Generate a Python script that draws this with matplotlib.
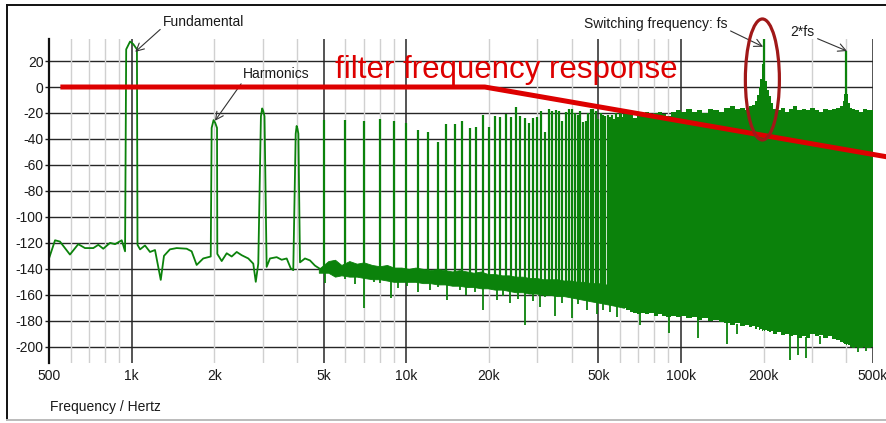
import numpy as np
import matplotlib
matplotlib.use("Agg")
import matplotlib.pyplot as plt
from matplotlib.patches import Ellipse
from matplotlib.lines import Line2D

plt.rcParams['font.family'] = ['Liberation Sans', 'DejaVu Sans']

# ---------------------------------------------------------------- data
x_ticks = [500, 1e3, 2e3, 5e3, 1e4, 2e4, 5e4, 1e5, 2e5, 5e5]
x_tick_labels = ['500', '1k', '2k', '5k', '10k', '20k', '50k', '100k', '200k', '500k']
y_ticks = list(range(-200, 21, 20))

# low-frequency noise floor (Hz, dB)
floor_line_f = [500, 526, 548, 596, 639, 676, 725, 756, 788, 834,
                870, 920, 946, 1050, 1073, 1118, 1166, 1216, 1276, 1311,
                1378, 1458, 1585, 1653, 1724, 1822, 1940, 2050, 2127, 2218,
                2313, 2412, 2515, 2658, 2771, 2830, 2890, 3100, 3188, 3372,
                3516, 3667, 3792, 3875, 4100, 4275, 4457, 4648, 4847, 5130]
floor_line_db = [-132, -118, -119, -129, -121, -124, -124, -121.5, -124.5, -120,
                 -121, -118, -126.5, -121.5, -125, -122, -127, -125.5, -148.5, -130,
                 -125, -124, -124.5, -126.5, -137, -132, -130.5, -128.5, -134, -128,
                 -130.5, -127, -129.5, -132, -136, -150, -136, -138.5, -132, -131,
                 -133, -132, -139.5, -141, -135, -132, -133.5, -137.5, -140, -140]

# noise floor band above 5 kHz (Hz, upper dB, lower dB)
floor_f = [4800, 5200, 5500, 5800, 6200, 6600, 7000, 7500, 8000, 8500,
           9000, 9600, 10200, 10800, 11500, 12200, 13000, 13800, 14700, 15600,
           16600, 17600, 18700, 19800, 21000, 22300, 23600, 25000, 26500, 28000,
           29700, 31500, 33400, 35400, 37500, 39700, 42000, 44500, 47000, 50000,
           53000, 56000, 59000, 62000]
floor_hi = [-140, -134, -133, -137, -134, -136, -135, -137, -138, -137,
            -139, -139, -140, -139, -140, -141, -140, -141, -142, -141,
            -142, -143, -142, -144, -144, -145, -145, -146, -146, -147,
            -147, -148, -148, -148, -149, -149, -150, -150, -151, -151,
            -152, -152, -153, -153]
floor_lo = [-143, -143, -146, -145, -146, -146, -147, -148, -148, -149,
            -150, -150, -150, -150, -151, -151, -152, -152, -153, -153,
            -154, -154, -155, -155, -156, -156, -157, -158, -158, -159,
            -159, -160, -160, -161, -161, -162, -163, -164, -165, -166,
            -167, -168, -169, -170]

# downward noise spikes (Hz, dB)
dip_f = [5050, 5980, 6500, 7030, 7600, 8020, 8790, 9300, 10030, 11000,
         12190, 13000, 14020, 15670, 16500, 17800, 19050, 21320, 22500, 23830,
         25500, 27020, 29000, 30650, 32000, 34800, 37000, 39980, 42000, 45350,
         49290, 52000, 55130, 58300, 70900, 90600, 115500, 146500, 160000, 249000,
         267000, 286000, 320000, 440000, 470000]
dip_db = [-151, -148, -152, -170, -150, -151, -162.5, -155, -153, -158,
          -156, -154, -164, -156, -160, -158, -171.5, -164, -161, -166,
          -163, -183, -165, -169, -162, -176, -166, -178, -167, -171.5,
          -175, -172, -173, -177, -183, -189.5, -193, -197.5, -190, -210,
          -206.5, -209, -198, -204, -203]

# harmonics of the 1 kHz fundamental: peak level (dB)
fund_hz = 1000
harm_k = np.arange(1, 65)
harm_db = [35, -25.5, -16.5, -30, -25.5, -25.5, -26, -24.5, -26, -28,
           -33, -35, -42, -28.5, -28.5, -26.5, -31.5, -31, -21.5, -31,
           -22, -23, -21, -23, -15.5, -22, -24, -28, -24, -23,
           -18.5, -34.5, -17, -18.5, -17.5, -18.5, -26, -19.5, -17, -17,
           -20, -21.5, -18.5, -27, -26, -20, -17, -17, -18.5, -24.5,
           -20, -21.5, -22, -21.5, -23, -21.5, -24.5, -20, -23, -19,
           -25, -21, -20, -22]

# dense switching-noise region (Hz, upper dB, lower dB)
band_f = [60000, 62000, 64000, 66000, 68000, 70000, 72500, 75000, 78000, 81000,
          84000, 87000, 90000, 94000, 98000, 102000, 107000, 112000, 117000, 122000,
          128000, 134000, 140000, 147000, 154000, 161000, 168000, 175000, 180000, 184000,
          187000, 190000, 193000, 196000, 198000, 200000, 202000, 204000, 207000, 210000,
          214000, 220000, 227000, 235000, 243000, 252000, 261000, 270000, 280000, 290000,
          301000, 312000, 324000, 336000, 348000, 361000, 374000, 385000, 391000, 396000,
          400000, 404000, 409000, 415000, 425000, 438000, 452000, 467000, 483000, 500000]
band_top = [-21, -23, -19, -20, -24, -19, -20, -19, -23, -20,
            -19, -21, -22, -19, -18, -19, -17, -19, -18, -20,
            -17, -18, -19, -16, -15, -17, -16, -18, -15, -14,
            -11, -6, 0, 6, 18, 24, 16, 5, -2, -7,
            -12, -17, -18, -16, -19, -17, -15, -18, -17, -18,
            -16, -18, -19, -17, -18, -17, -16, -15, -11, -5,
            0, -5, -12, -16, -17, -18, -19, -17, -18, -18]
band_bot = [-169, -170, -172, -173, -174, -175, -174, -175, -174, -176,
            -175, -176, -177, -176, -177, -176, -178, -177, -179, -178,
            -180, -179, -181, -182, -183, -182, -184, -183, -185, -184,
            -186, -185, -187, -186, -188, -187, -188, -187, -188, -189,
            -188, -190, -189, -191, -190, -192, -191, -193, -192, -193,
            -190, -192, -191, -193, -192, -194, -195, -196, -197, -198,
            -199, -198, -199, -200, -201, -200, -201, -200, -201, -200]

# switching frequency and its second multiple
fs_hz = 200000
spur_f = [fs_hz, 2 * fs_hz]
spur_db = [37, 28]

# output filter response
filter_f = [550, 19300, 600000]
filter_db = [0, 0, -54.8]

# ---------------------------------------------------------------- style
GREEN = '#0b820b'
RED = '#dd0000'
DARK_RED = '#a01818'
GRID_DARK = '#262626'
GRID_LIGHT = '#d0d0d0'
LOBE_HZ = 45

fig = plt.figure(figsize=(8.87, 4.23), dpi=100)
ax = fig.add_axes([0.05524, 0.1418, 0.92898, 0.766])
ax.set_xscale('log')
ax.set_xlim(500, 500000)
ax.set_ylim(-212.5, 36.96)

# grid
for y in y_ticks:
    ax.axhline(y, color=GRID_DARK, lw=1.0, zorder=0)
for dec in [100, 1000, 10000, 100000]:
    for m in range(1, 10):
        f = m * dec
        if f <= 500 or f > 500000:
            continue
        dark = m in (1, 5)
        ax.axvline(f, color=GRID_DARK if dark else GRID_LIGHT,
                   lw=1.1 if dark else 1.0, zorder=0)

# noise floor band and its dips
ax.fill_between(floor_f, floor_lo, floor_hi, color=GREEN, lw=0.6, zorder=2)
base_dip = np.interp(dip_f, floor_f + band_f, floor_lo + band_bot)
ax.vlines(dip_f, base_dip, dip_db, color=GREEN, lw=1.3, zorder=2)

# harmonic spikes above 4 kHz
harm_f = fund_hz * harm_k
spike_f = harm_f[4:]
spike_base = np.interp(spike_f, floor_f, floor_lo)
ax.vlines(spike_f, spike_base, harm_db[4:], color=GREEN, lw=1.6, zorder=3)

# low-frequency trace including the first harmonics
trace_f = list(floor_line_f)
trace_db = list(floor_line_db)
for f, p in zip(harm_f[:4], harm_db[:4]):
    trace_f += [f - LOBE_HZ, f - 0.3 * LOBE_HZ, f + 0.3 * LOBE_HZ, f + LOBE_HZ]
    trace_db += [p - 6, p, p - 2, p - 6]
order = np.argsort(trace_f)
ax.plot(np.array(trace_f)[order], np.array(trace_db)[order],
        color=GREEN, lw=1.3, zorder=3)

# dense high-frequency region
ax.fill_between(band_f, band_bot, band_top, step='mid', color=GREEN, lw=0, zorder=2)
ax.vlines(spur_f, [0, -8], spur_db, color=GREEN, lw=1.6, zorder=3)

# filter response
ax.plot(filter_f, filter_db, color=RED, lw=3.6, solid_capstyle='butt',
        zorder=5, clip_on=False)
ax.text(5500, 6.7, 'filter frequency response', color=RED, fontsize=22.5,
        va='baseline', ha='left', zorder=6)

# ring around the switching peak
cx, cy = ax.transAxes.inverted().transform(ax.transData.transform((197800, 5.8)))
ax.add_patch(Ellipse((cx, cy), 0.0413, 0.3735, transform=ax.transAxes,
                     fill=False, edgecolor=DARK_RED, lw=2.3, zorder=7, clip_on=False))

# annotations
arrow = dict(arrowstyle='->,head_length=0.55,head_width=0.28', color='#333333',
             lw=0.8, shrinkA=0, shrinkB=0)
ax.annotate('Fundamental', xy=(1030, 27), xytext=(1300, 50), fontsize=10,
            ha='left', va='center', color='#1a1a1a', annotation_clip=False,
            arrowprops=dict(arrow, relpos=(0, 0.15)))
ax.annotate('Harmonics', xy=(2010, -26), xytext=(2544, 10), fontsize=10,
            ha='left', va='center', color='#1a1a1a', annotation_clip=False,
            arrowprops=dict(arrow, relpos=(0, 0)))
ax.annotate('Switching frequency: fs', xy=(199000, 31), xytext=(148000, 48.5),
            fontsize=10, ha='right', va='center', color='#1a1a1a',
            annotation_clip=False, arrowprops=dict(arrow, relpos=(1, 0.1)))
ax.annotate('2*fs', xy=(402000, 27.7), xytext=(307000, 42.4),
            fontsize=10, ha='right', va='center', color='#1a1a1a',
            annotation_clip=False, arrowprops=dict(arrow, relpos=(1, 0.1)))

# axes
ax.set_xticks(x_ticks)
ax.set_xticklabels(x_tick_labels)
ax.xaxis.set_minor_locator(plt.NullLocator())
ax.set_yticks(y_ticks)
ax.set_yticklabels([str(v) for v in y_ticks])
ax.tick_params(axis='x', length=0, pad=4, labelsize=10, labelcolor='#1a1a1a')
ax.tick_params(axis='y', length=3, width=1, pad=1, labelsize=10,
               labelcolor='#1a1a1a', color='#1a1a1a')
for side in ('top', 'right', 'bottom'):
    ax.spines[side].set_visible(False)
ax.spines['left'].set_linewidth(1.6)
ax.spines['left'].set_color('#111111')
ax.spines['left'].set_zorder(8)

fig.text(50 / 887, 1 - 407 / 423, 'Frequency / Hertz', fontsize=10,
         ha='left', va='center', color='#1a1a1a')

# outer frame
fx0, fy_top, fy_bot = 7 / 887, 1 - 5 / 423, 1 - 420 / 423
fig.add_artist(Line2D([fx0, 1.0], [fy_top, fy_top], color='#111111', lw=1.4))
fig.add_artist(Line2D([fx0, fx0], [fy_bot, fy_top], color='#111111', lw=1.4))
fig.add_artist(Line2D([fx0, 1.0], [fy_bot, fy_bot], color='#bbbbbb', lw=1.4))

fig.savefig('out.png', dpi=100)
